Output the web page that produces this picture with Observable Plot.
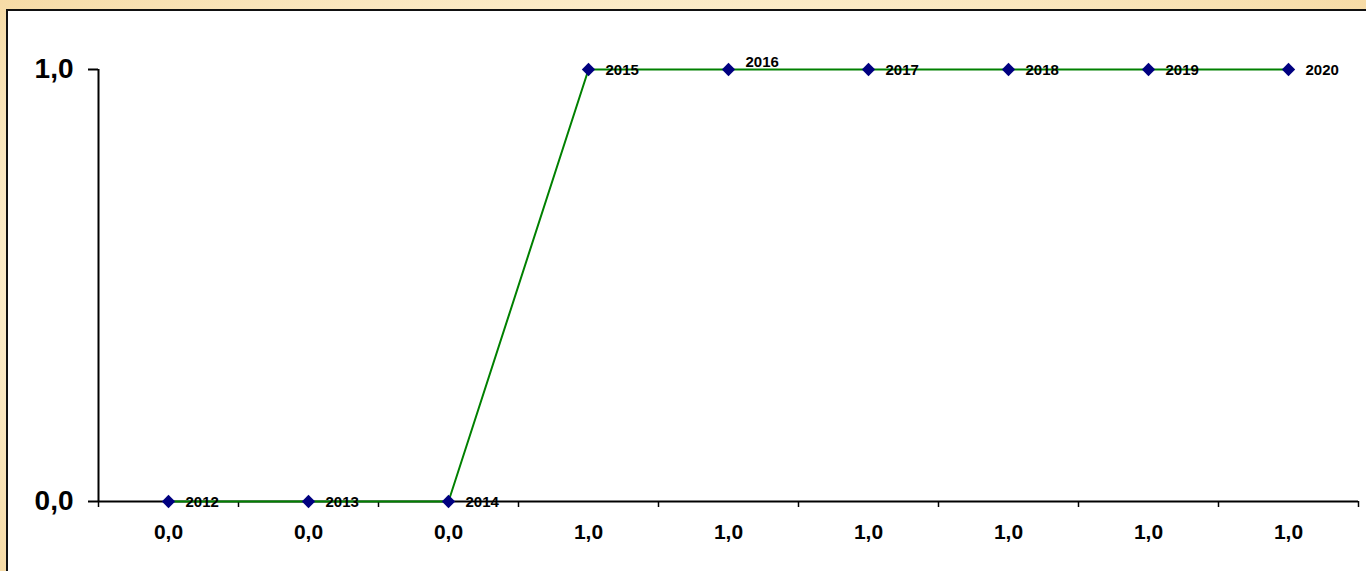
<!DOCTYPE html>
<html>
<head>
<meta charset="utf-8">
<script src="https://cdn.jsdelivr.net/npm/d3@7"></script>
<script src="https://cdn.jsdelivr.net/npm/@observablehq/plot@0.6"></script>
<style>
  html, body { margin: 0; padding: 0; width: 1366px; height: 571px; overflow: hidden; }
  body { background: radial-gradient(ellipse at 50% 50%, #fff7e0 0%, #fdf0d2 60%, #f6dba6 100%); position: relative; }
  #box { position: absolute; left: 6px; top: 9px; width: 1400px; height: 600px; background: #fff; border-left: 2px solid #111; border-top: 2px solid #111; }
  #chart { position: absolute; left: 0; top: 0; }
  #chart svg { background: transparent; }
</style>
</head>
<body>
<div id="box"></div>
<div id="chart"></div>
<script>
const years = ["2012", "2013", "2014", "2015", "2016", "2017", "2018", "2019", "2020"];
const values = [0, 0, 0, 1, 1, 1, 1, 1, 1];
const categoryLabels = ["0,0", "0,0", "0,0", "1,0", "1,0", "1,0", "1,0", "1,0", "1,0"];
const yTicks = [0, 1];
const labelOffsets = [0, 0, 0, 0, -8, 0, 0, 0, 0];

const data = years.map((y, i) => ({ year: y, i: i + 0.5, v: values[i], dy: labelOffsets[i] + 1 }));
const fmt = d => d.toFixed(1).replace(".", ",");

const chart = Plot.plot({
  width: 1366,
  height: 571,
  marginLeft: 98,
  marginRight: 8,
  marginTop: 69,
  marginBottom: 70,
  style: { fontFamily: "'Liberation Sans', Arial, sans-serif", background: "transparent", color: "#000" },
  x: { type: "linear", domain: [0, years.length], label: null },
  y: { type: "linear", domain: [0, 1], label: null },
  marks: [
    Plot.ruleY([0], { stroke: "#000", strokeWidth: 2 }),
    Plot.ruleX([0], { stroke: "#000", strokeWidth: 2 }),
    Plot.axisX({ ticks: d3.range(years.length + 1), tickSize: 6, tickFormat: () => "", strokeWidth: 1.5, label: null }),
    Plot.axisX({ ticks: data.map(d => d.i), tickSize: 0, tickPadding: 23, tickFormat: (d, k) => categoryLabels[k], fontSize: 21, fontWeight: "bold", label: null }),
    Plot.axisY({ ticks: yTicks, tickSize: 10, tickPadding: 15, tickFormat: fmt, fontSize: 28, fontWeight: "bold", strokeWidth: 2, label: null }),
    Plot.line(data, { x: "i", y: "v", stroke: "#008000", strokeWidth: 2 }),
    Plot.dot(data, { x: "i", y: "v", symbol: "diamond2", r: 6, fill: "#000080", stroke: "none" }),
    ...data.map(d => Plot.text([d], { x: "i", y: "v", text: "year", textAnchor: "start", dx: 17, dy: d.dy, fontSize: 15, fontWeight: "bold", fill: "#000" }))
  ]
});
document.getElementById("chart").appendChild(chart);
</script>
</body>
</html>
